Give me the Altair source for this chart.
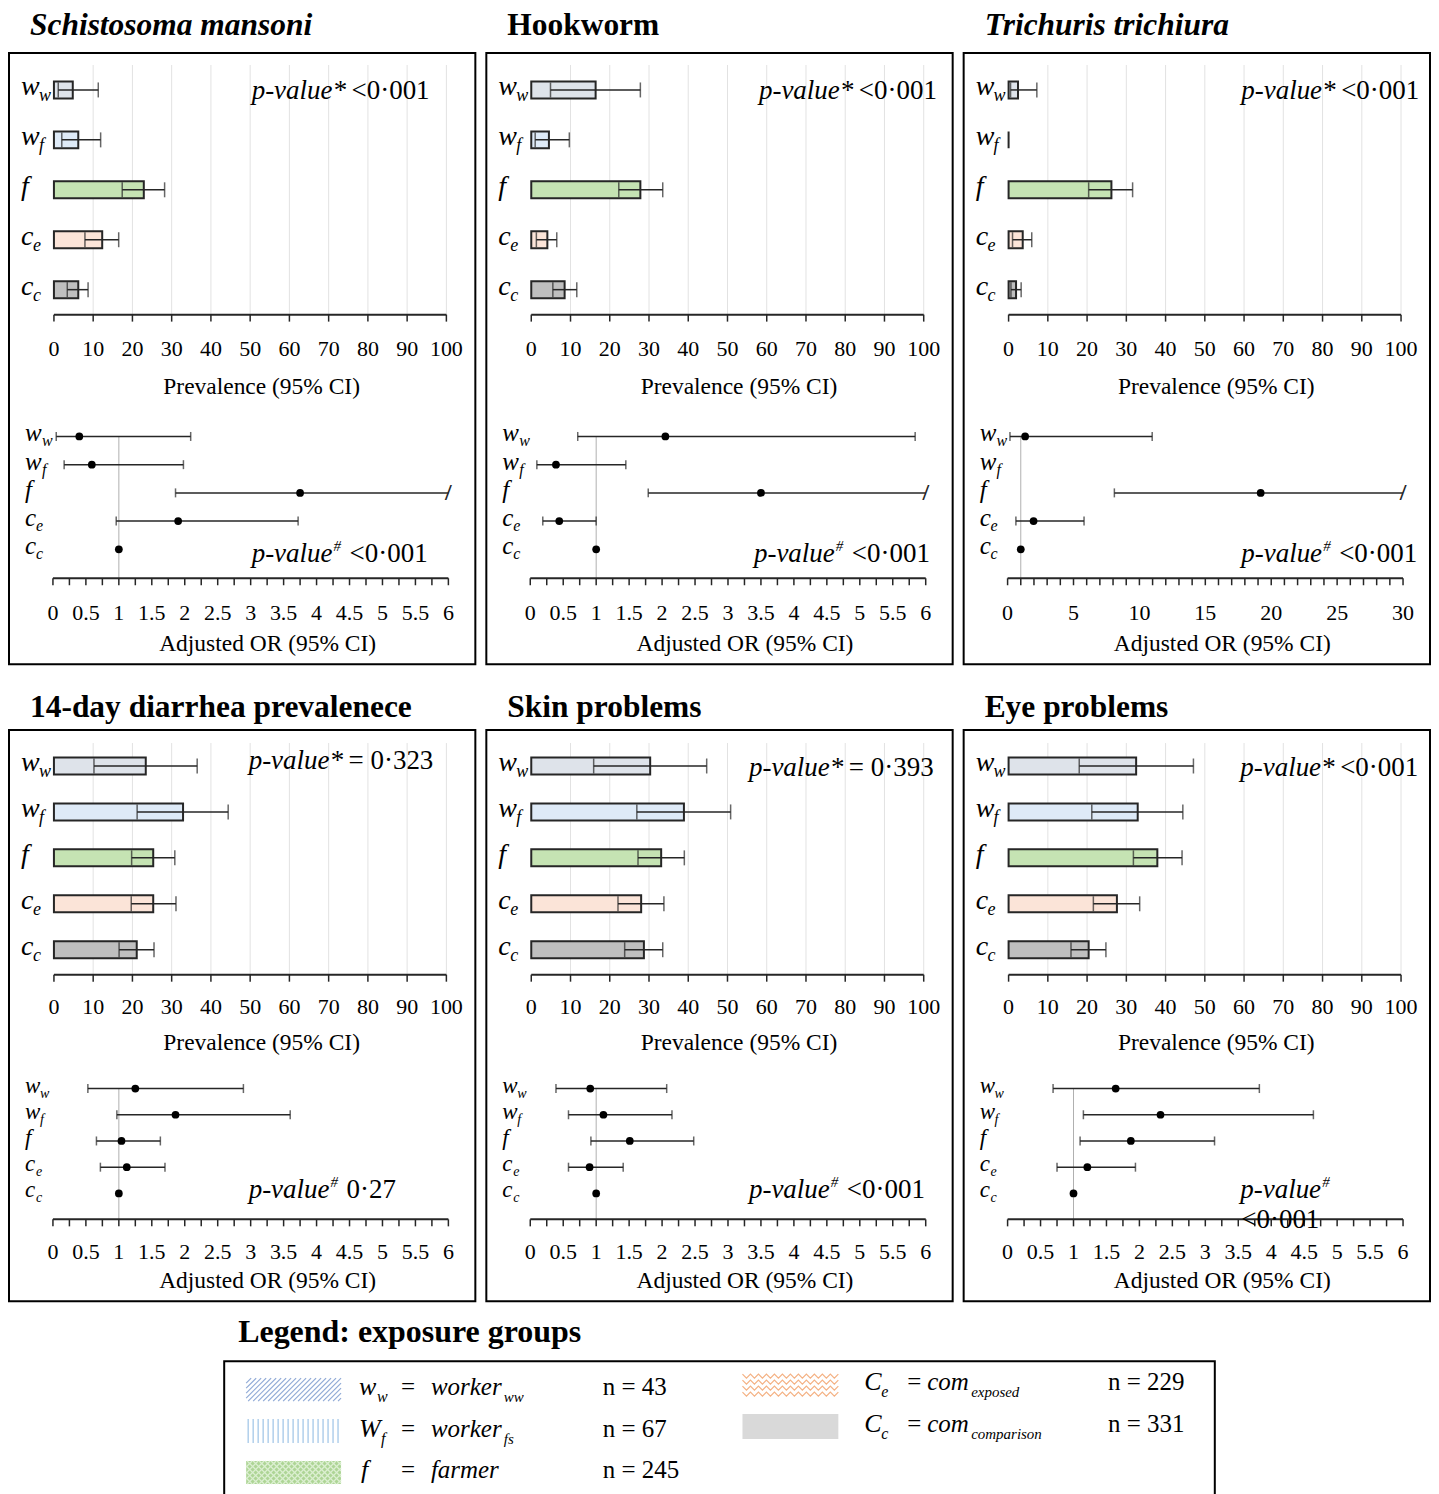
import altair as alt
import pandas as pd

FONT = "Liberation Serif"
INK = "#262626"

# ---------------- data ----------------
groups = ["ww", "wf", "f", "ce", "cc"]
grp_main = ["w", "w", "f", "c", "c"]
grp_sub = ["w", "f", "", "e", "c"]
bar_fill = ["#dee3ea", "#deeaf7", "#c5e3b3", "#fbe4d8", "#bfbfbf"]

panel_titles = ["Schistosoma mansoni", "Hookworm", "Trichuris trichiura",
                "14-day diarrhea prevalenece", "Skin problems", "Eye problems"]
panel_title_italic = [True, False, True, False, False, False]

# Schistosoma mansoni
sm_prev = [4.8, 6.2, 22.9, 12.3, 6.2]
sm_prev_lo = [1.1, 2.0, 17.4, 7.9, 3.4]
sm_prev_hi = [11.3, 11.9, 28.2, 16.5, 8.7]
sm_or = [0.40, 0.59, 3.75, 1.90, 1.0]
sm_or_lo = [0.05, 0.17, 1.86, 0.96, None]
sm_or_hi = [2.09, 1.98, None, 3.72, None]

# Hookworm
hw_prev = [16.4, 4.5, 27.8, 4.1, 8.5]
hw_prev_lo = [4.9, 1.0, 22.3, 1.3, 5.5]
hw_prev_hi = [27.8, 9.7, 33.5, 6.5, 11.6]
hw_or = [2.05, 0.39, 3.50, 0.44, 1.0]
hw_or_lo = [0.72, 0.10, 1.79, 0.19, None]
hw_or_hi = [5.84, 1.45, None, 1.00, None]

# Trichuris trichiura
tt_prev = [2.4, 0.0, 26.2, 3.6, 1.9]
tt_prev_lo = [0.5, None, 20.4, 1.0, 0.6]
tt_prev_hi = [7.2, None, 31.6, 5.9, 3.2]
tt_or = [1.33, None, 19.2, 1.97, 1.0]
tt_or_lo = [0.18, None, 8.1, 0.63, None]
tt_or_hi = [10.97, None, None, 5.80, None]

# 14-day diarrhea
dh_prev = [23.4, 32.9, 25.3, 25.3, 21.1]
dh_prev_lo = [10.2, 21.2, 19.8, 19.7, 16.6]
dh_prev_hi = [36.5, 44.4, 30.8, 31.1, 25.5]
dh_or = [1.25, 1.86, 1.04, 1.12, 1.0]
dh_or_lo = [0.53, 0.97, 0.66, 0.72, None]
dh_or_hi = [2.89, 3.60, 1.63, 1.70, None]

# Skin problems
sk_prev = [30.3, 38.9, 33.1, 28.0, 28.7]
sk_prev_lo = [15.9, 26.9, 27.2, 22.1, 23.8]
sk_prev_hi = [44.7, 50.8, 39.0, 33.8, 33.5]
sk_or = [0.91, 1.11, 1.51, 0.90, 1.0]
sk_or_lo = [0.39, 0.58, 0.92, 0.58, None]
sk_or_hi = [2.07, 2.15, 2.48, 1.41, None]

# Eye problems
ey_prev = [32.5, 32.9, 37.9, 27.6, 20.4]
ey_prev_lo = [18.0, 21.2, 31.8, 21.6, 15.9]
ey_prev_hi = [47.1, 44.4, 44.2, 33.4, 24.8]
ey_or = [1.64, 2.32, 1.87, 1.21, 1.0]
ey_or_lo = [0.69, 1.15, 1.10, 0.75, None]
ey_or_hi = [3.82, 4.64, 3.14, 1.94, None]

prev_ticks = [0, 10, 20, 30, 40, 50, 60, 70, 80, 90, 100]
or_axis_max = [6, 6, 30, 6, 6, 6]
or_minor_step = [0.25, 0.25, 1, 0.25, 0.25, 0.25]
or_label_step = [0.5, 0.5, 5, 0.5, 0.5, 0.5]
bar_pvalue = ["<0·001", "<0·001", "<0·001", "= 0·323", "= 0·393", "<0·001"]
or_pvalue = ["<0·001", "<0·001", "<0·001", "0·27", "<0·001", "<0·001"]

legend_sym_main = ["w", "W", "f", "C", "C"]
legend_sym_sub = ["w", "f", "", "e", "c"]
legend_name = ["worker", "worker", "farmer", "com", "com"]
legend_name_sub = ["ww", "fs", "", "exposed", "comparison"]
legend_n = [43, 67, 245, 229, 331]

# ---------------- layout ----------------
LAYOUT = {
    True: dict(H=612, bar_range=[12, 262], bar_axis=262, or_range=[384, 497], or_axis=526,
               pin=0.66, pout=0.33, bl=34, bt=72, ol=35, ot=66, ofs=25, osub=16, ow=17),
    False: dict(H=572, bar_range=[13, 243], bar_axis=245, or_range=[359, 464], or_axis=490,
                pin=0.63, pout=0.315, bl=32, bt=68, ol=33, ot=62, ofs=23, osub=14, ow=15),
}
PANEL_W = 467
BAR_PX = [45, 438]
OR_PX = [44, 440]
GLYPH_W = {"w": 18, "W": 22, "f": 9, "c": 12, "C": 17}
p1x = [243, 273, 278, 240, 263, 277]
p1y = [38, 38, 38, 31, 38, 38]
p2x = [243, 268, 278, 240, 263, 277]
p2y = [502, 502, 502, 461, 461, 461]


def txt(s, x, y, size=27, italic=False, align="left"):
    return alt.Chart(pd.DataFrame({"t": [s]})).mark_text(
        font=FONT, fontSize=size, fontStyle="italic" if italic else "normal",
        align=align, baseline="middle", color="black"
    ).encode(x=alt.value(x), y=alt.value(y), text="t:N")


def draw_axis(xs, lo, hi, tick_vals, label_vals, axis_y, lab_dy, title, title_x, title_dy):
    dom = alt.Chart(pd.DataFrame({"a": [lo], "b": [hi]})).mark_rule(color=INK, strokeWidth=2).encode(
        x=alt.X("a:Q", scale=xs, axis=None), x2="b:Q", y=alt.value(axis_y))
    ticks = alt.Chart(pd.DataFrame({"v": tick_vals})).mark_rule(color=INK, strokeWidth=1.5).encode(
        x=alt.X("v:Q", scale=xs, axis=None), y=alt.value(axis_y), y2=alt.value(axis_y + 7))
    labs = alt.Chart(pd.DataFrame({"v": label_vals, "t": [f"{v:g}" for v in label_vals]})).mark_text(
        font=FONT, fontSize=22, color="black", baseline="middle", align="center").encode(
        x=alt.X("v:Q", scale=xs, axis=None), y=alt.value(axis_y + lab_dy), text="t:N")
    tit = txt(title, title_x, axis_y + title_dy, 23.5, False, "center")
    return [dom, ticks, labs, tit]


def panel(k, prev, plo, phi, orv, olo, ohi):
    top = k < 3
    L = LAYOUT[top]
    H = L["H"]
    omax = or_axis_max[k]

    # ---------- prevalence bars ----------
    xb = alt.Scale(domain=[0, 100], range=BAR_PX, nice=False)
    yb = alt.Scale(domain=groups, range=L["bar_range"], paddingInner=L["pin"], paddingOuter=L["pout"])
    Yc = alt.Y("group:N", scale=yb, axis=None, bandPosition=0.5)

    dfb = pd.DataFrame({"group": groups, "main": grp_main, "sub": grp_sub, "prev": prev,
                        "subx": [12 + GLYPH_W[m] for m in grp_main]})
    grid = alt.Chart(pd.DataFrame({"v": prev_ticks[1:]})).mark_rule(color="#e2e2e2", strokeWidth=1).encode(
        x=alt.X("v:Q", scale=xb, axis=None),
        y=alt.value(L["bar_range"][0]), y2=alt.value(L["bar_axis"]))
    bars = alt.Chart(dfb).mark_bar(stroke=INK, strokeWidth=2).encode(
        x=alt.X("prev:Q", scale=xb, axis=None, stack=None),
        y=alt.Y("group:N", scale=yb, axis=None),
        color=alt.Color("group:N", scale=alt.Scale(domain=groups, range=bar_fill), legend=None))
    ci_rows = [(g, lo, hi) for g, lo, hi in zip(groups, plo, phi) if lo is not None]
    dfci = pd.DataFrame(ci_rows, columns=["group", "lo", "hi"])
    ci = alt.Chart(dfci).mark_rule(color=INK, strokeWidth=1.5).encode(
        x=alt.X("lo:Q", scale=xb, axis=None), x2="hi:Q", y=Yc)
    dfcap = pd.DataFrame([(g, v) for g, lo, hi in ci_rows for v in (lo, hi)], columns=["group", "v"])
    caps = alt.Chart(dfcap).mark_tick(color=INK, size=15, thickness=1.5).encode(
        x=alt.X("v:Q", scale=xb, axis=None), y=Yc)
    lab = alt.Chart(dfb).mark_text(font=FONT, fontStyle="italic", fontSize=28, align="left",
                                   baseline="middle", color="black", dy=-3).encode(
        x=alt.value(12), y=Yc, text="main:N")
    labs = alt.Chart(dfb).mark_text(font=FONT, fontStyle="italic", fontSize=18, align="left",
                                    baseline="middle", color="black", dy=6).encode(
        x=alt.X("subx:Q", scale=None), y=Yc, text="sub:N")
    bar_axis = draw_axis(xb, 0, 100, prev_ticks, prev_ticks, L["bar_axis"], L["bl"],
                         "Prevalence (95% CI)", 253, L["bt"])
    bar_layer = alt.layer(grid, bars, ci, caps, lab, labs, *bar_axis)

    # ---------- adjusted OR ----------
    n_minor = int(round(omax / or_minor_step[k]))
    minor_vals = [round(i * or_minor_step[k], 4) for i in range(n_minor + 1)]
    n_lab = int(round(omax / or_label_step[k]))
    label_vals = [round(i * or_label_step[k], 4) for i in range(n_lab + 1)]
    xo = alt.Scale(domain=[0, omax], range=OR_PX, nice=False)
    yo = alt.Scale(type="point", domain=groups, range=L["or_range"], padding=0)
    Yo = alt.Y("group:N", scale=yo, axis=None)

    ow = {"w": L["ow"], "f": 8, "c": 11}
    dfo = pd.DataFrame({"group": groups, "main": grp_main, "sub": grp_sub,
                        "subx": [16 + ow[m] for m in grp_main]})
    ref = alt.Chart(pd.DataFrame({"v": [1]})).mark_rule(color="#b0b0b0", strokeWidth=1).encode(
        x=alt.X("v:Q", scale=xo, axis=None),
        y=alt.value(L["or_range"][0]), y2=alt.value(L["or_axis"]))
    orci_rows = [(g, lo, hi if hi is not None else omax, hi is None)
                 for g, lo, hi in zip(groups, olo, ohi) if lo is not None]
    dforci = pd.DataFrame(orci_rows, columns=["group", "lo", "hi", "cut"])
    orci = alt.Chart(dforci).mark_rule(color=INK, strokeWidth=1.5).encode(
        x=alt.X("lo:Q", scale=xo, axis=None), x2="hi:Q", y=Yo)
    capv = []
    for g, lo, hi, cut in orci_rows:
        capv.append((g, lo))
        if not cut:
            capv.append((g, hi))
    orcaps = alt.Chart(pd.DataFrame(capv, columns=["group", "v"])).mark_tick(
        color=INK, size=9, thickness=1.5).encode(x=alt.X("v:Q", scale=xo, axis=None), y=Yo)
    cut_rows = [(g, hi) for g, lo, hi, cut in orci_rows if cut]
    layers_or = [ref, orci, orcaps]
    if cut_rows:
        slash = alt.Chart(pd.DataFrame(cut_rows, columns=["group", "v"])).mark_text(
            text="/", font=FONT, fontSize=24, fontWeight="bold", color=INK, baseline="middle").encode(
            x=alt.X("v:Q", scale=xo, axis=None), y=Yo)
        layers_or.append(slash)
    pts_rows = [(g, v) for g, v in zip(groups, orv) if v is not None]
    pts = alt.Chart(pd.DataFrame(pts_rows, columns=["group", "v"])).mark_circle(
        size=60, color="black", opacity=1).encode(x=alt.X("v:Q", scale=xo, axis=None), y=Yo)
    olab = alt.Chart(dfo).mark_text(font=FONT, fontStyle="italic", fontSize=L["ofs"], align="left",
                                    baseline="middle", color="black", dy=-3).encode(
        x=alt.value(16), y=Yo, text="main:N")
    olabs = alt.Chart(dfo).mark_text(font=FONT, fontStyle="italic", fontSize=L["osub"], align="left",
                                     baseline="middle", color="black", dy=5).encode(
        x=alt.X("subx:Q", scale=None), y=Yo, text="sub:N")
    or_axis = draw_axis(xo, 0, omax, minor_vals, label_vals, L["or_axis"], L["ol"],
                        "Adjusted OR (95% CI)", 259, L["ot"])
    layers_or += [pts, olab, olabs] + or_axis
    or_layer = alt.layer(*layers_or)

    # ---------- annotations ----------
    ann = [txt("p-value*", p1x[k], p1y[k], 27, True),
           txt(bar_pvalue[k], p1x[k] + 100, p1y[k], 27),
           txt("p-value", p2x[k], p2y[k], 27, True),
           txt("#", p2x[k] + 82, p2y[k] - 8, 15, True)]
    if k == 5:
        ann.append(txt(or_pvalue[k], p2x[k] + 1, p2y[k] + 30, 27))
    else:
        ann.append(txt(or_pvalue[k], p2x[k] + 98, p2y[k], 27))

    title = alt.TitleParams(text=panel_titles[k], fontStyle="italic" if panel_title_italic[k] else "normal",
                            dx=21, offset=11.5 if top else 6.5)
    return alt.layer(bar_layer, or_layer, *ann).resolve_scale(
        x="independent", y="independent").properties(width=PANEL_W, height=H, title=title)


# ---------------- legend ----------------
def diag_lines(Lx, Rx, T, B, step, direction):
    h = B - T
    segs = []
    t = Lx - h
    while t < Rx:
        if direction == 1:
            x0, y0, x1, y1 = t, B, t + h, T
        else:
            x0, y0, x1, y1 = t, T, t + h, B
        if x0 < Lx:
            d = Lx - x0
            x0 = Lx
            y0 = y0 - d if direction == 1 else y0 + d
        if x1 > Rx:
            d = x1 - Rx
            x1 = Rx
            y1 = y1 + d if direction == 1 else y1 - d
        if x1 > x0:
            segs.append((x0, y0, x1, y1))
        t += step
    return segs


def legend_chart():
    rects = pd.DataFrame([
        (22, 100, 117, 123, "#aed596"),
        (519, 53, 615, 78, "#d9d9d9"),
    ], columns=["x0", "y0", "x1", "y1", "c"])
    rect = alt.Chart(rects).mark_rect().encode(
        x=alt.X("x0:Q", scale=None), x2="x1:Q", y=alt.Y("y0:Q", scale=None), y2="y1:Q",
        color=alt.Color("c:N", scale=None))
    segs = []
    for s in diag_lines(22, 117, 17, 40, 5, 1):
        segs.append(s + ("#8fa9d6",))
    x = 24
    while x <= 116:
        segs.append((x, 58, x, 82, "#9dc3e6"))
        x += 5
    for s in diag_lines(22, 117, 100, 123, 6, 1) + diag_lines(22, 117, 100, 123, 6, -1):
        segs.append(s + ("#dcefd2",))
    dseg = pd.DataFrame(segs, columns=["x0", "y0", "x1", "y1", "c"])
    hatch = alt.Chart(dseg).mark_rule(strokeWidth=1.2).encode(
        x=alt.X("x0:Q", scale=None), x2="x1:Q", y=alt.Y("y0:Q", scale=None), y2="y1:Q",
        color=alt.Color("c:N", scale=None))
    wave_pts = []
    for li, yy in enumerate([15, 21, 27, 33]):
        for i, xx in enumerate(range(519, 616, 4)):
            wave_pts.append((li, i, xx, yy + (2 if i % 2 else -2)))
    wave = alt.Chart(pd.DataFrame(wave_pts, columns=["line", "i", "x", "y"])).mark_line(
        color="#f4b183", strokeWidth=1.2).encode(
        x=alt.X("x:Q", scale=None), y=alt.Y("y:Q", scale=None), detail="line:N", order="i:Q")

    col_x = [(135, 177, 207, 379), (135, 177, 207, 379), (137, 177, 207, 379),
             (641, 684, 704, 885), (641, 684, 704, 885)]
    row_y = [28, 70, 111, 23, 65]
    name_w = {"worker": 73, "farmer": 66, "com": 44}
    it_rows, up_rows = [], []
    for i in range(5):
        sx, ex, nx, cx = col_x[i]
        y = row_y[i]
        it_rows.append((legend_sym_main[i], sx, y - 2, 26))
        if legend_sym_sub[i]:
            it_rows.append((legend_sym_sub[i], sx + GLYPH_W[legend_sym_main[i]], y + 8, 16))
        up_rows.append(("=", ex, y - 2, 25))
        it_rows.append((legend_name[i], nx, y - 2, 25))
        if legend_name_sub[i]:
            it_rows.append((legend_name_sub[i], nx + name_w[legend_name[i]], y + 8, 15))
        up_rows.append((f"n = {legend_n[i]}", cx, y - 2, 25))
    tit = alt.Chart(pd.DataFrame(it_rows, columns=["t", "x", "y", "fs"])).mark_text(
        font=FONT, fontStyle="italic", align="left", baseline="middle", color="black").encode(
        x=alt.X("x:Q", scale=None), y=alt.Y("y:Q", scale=None), text="t:N", size=alt.Size("fs:Q", scale=None))
    tup = alt.Chart(pd.DataFrame(up_rows, columns=["t", "x", "y", "fs"])).mark_text(
        font=FONT, align="left", baseline="middle", color="black").encode(
        x=alt.X("x:Q", scale=None), y=alt.Y("y:Q", scale=None), text="t:N", size=alt.Size("fs:Q", scale=None))
    return alt.layer(rect, hatch, wave, tit, tup).properties(
        width=992, height=150,
        title=alt.TitleParams(text="Legend: exposure groups", dx=14, offset=12, fontSize=32))


data_sets = [
    (sm_prev, sm_prev_lo, sm_prev_hi, sm_or, sm_or_lo, sm_or_hi),
    (hw_prev, hw_prev_lo, hw_prev_hi, hw_or, hw_or_lo, hw_or_hi),
    (tt_prev, tt_prev_lo, tt_prev_hi, tt_or, tt_or_lo, tt_or_hi),
    (dh_prev, dh_prev_lo, dh_prev_hi, dh_or, dh_or_lo, dh_or_hi),
    (sk_prev, sk_prev_lo, sk_prev_hi, sk_or, sk_or_lo, sk_or_hi),
    (ey_prev, ey_prev_lo, ey_prev_hi, ey_or, ey_or_lo, ey_or_hi),
]
panels = [panel(k, *d) for k, d in enumerate(data_sets)]
row1 = alt.hconcat(*panels[:3], spacing=9)
row2 = alt.hconcat(*panels[3:], spacing=9)
grid_rows = alt.vconcat(row1, row2, spacing=26)
chart = alt.vconcat(grid_rows, legend_chart(), spacing=13, center=True).properties(
    padding=0
).configure_view(stroke="black", strokeWidth=2).configure_title(
    font=FONT, fontSize=31.5, fontWeight="bold", anchor="start", color="black")

chart.save("out.html", embed_options={"renderer": "svg", "actions": False})
